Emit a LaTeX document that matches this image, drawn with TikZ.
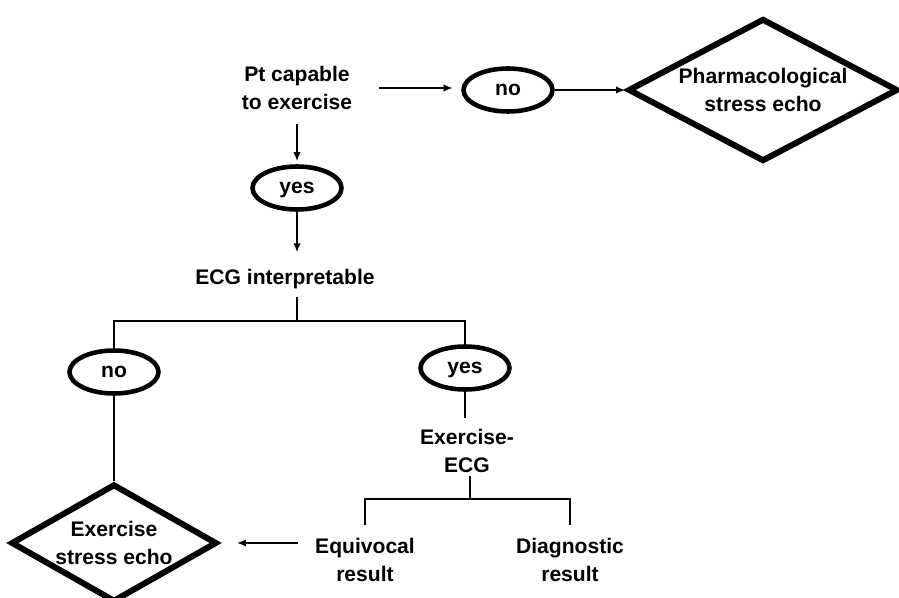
\documentclass[tikz,border=0pt]{standalone}
\usepackage{fontspec}
\setmainfont{Liberation Sans}
\usetikzlibrary{arrows.meta,shapes.geometric}

\begin{document}
\begin{tikzpicture}[x=0.02cm,y=-0.02cm,>=Latex,
  txt/.style={align=center,font=\bfseries\fontsize{12}{15.5}\selectfont,inner sep=2pt},
  oval/.style={txt,draw,ellipse,line width=2.6pt,minimum width=1.78cm,minimum height=0.86cm,inner sep=0pt,text height=6.2pt,text depth=0pt},
  dia/.style={txt,draw,diamond,aspect=2,line width=3.4pt,inner sep=-2pt},
  link/.style={line width=1.1pt},
  arr/.style={link,-{Latex[length=1.8mm,width=1.5mm]}}]
\useasboundingbox (0,0) rectangle (899,598);
\node[txt] (pt) at (297,88) {Pt capable\\to exercise};
\node[oval] (no1) at (508,90) {no};
\node[dia,minimum width=5.4cm,minimum height=2.86cm] (pharm) at (763,90) {Pharmacological\\stress echo};
\node[oval] (yes1) at (297,188) {yes};
\node[txt] (ecg) at (285,279) {ECG interpretable};
\coordinate (b1) at (297,321);
\node[oval] (no2) at (114,372) {no};
\node[oval] (yes2) at (465,368) {yes};
\node[dia,minimum width=4.12cm,minimum height=2.36cm] (exdia) at (114,543) {Exercise\\stress echo};
\node[txt] (exg) at (467,451) {Exercise-\\ECG};
\coordinate (b2) at (470,499);
\node[txt] (equiv) at (365,560) {Equivocal\\result};
\node[txt] (diag) at (570,560) {Diagnostic\\result};
\draw[arr,shorten <=0.47cm,shorten >=0.17cm] (pt.east) -- (pt.east -| no1.west);
\draw[arr] (no1.east |- pharm.west) -- (pharm.west);
\draw[arr,shorten <=0.22cm,shorten >=0.06cm] (pt.south) -- (yes1.north);
\draw[arr,shorten >=0.26cm] (yes1.south) -- (yes1.south |- ecg.north);
\draw[link,shorten <=0.08cm] (ecg.south -| b1) -- (b1);
\draw[link] (no2.north) |- (b1) -| (yes2.north);
\draw[link] (no2.south) -- (exdia.north);
\draw[link,shorten >=0.16cm] (yes2.south) -- (yes2.south |- exg.north);
\draw[link] (exg.south -| b2) -- (b2);
\draw[link,shorten <=0.2cm,shorten >=0.2cm] (equiv.north) |- (b2) -| (diag.north);
\draw[arr,shorten <=0.26cm,shorten >=0.34cm] (equiv.west |- exdia.east) -- (exdia.east);
\end{tikzpicture}
\end{document}
